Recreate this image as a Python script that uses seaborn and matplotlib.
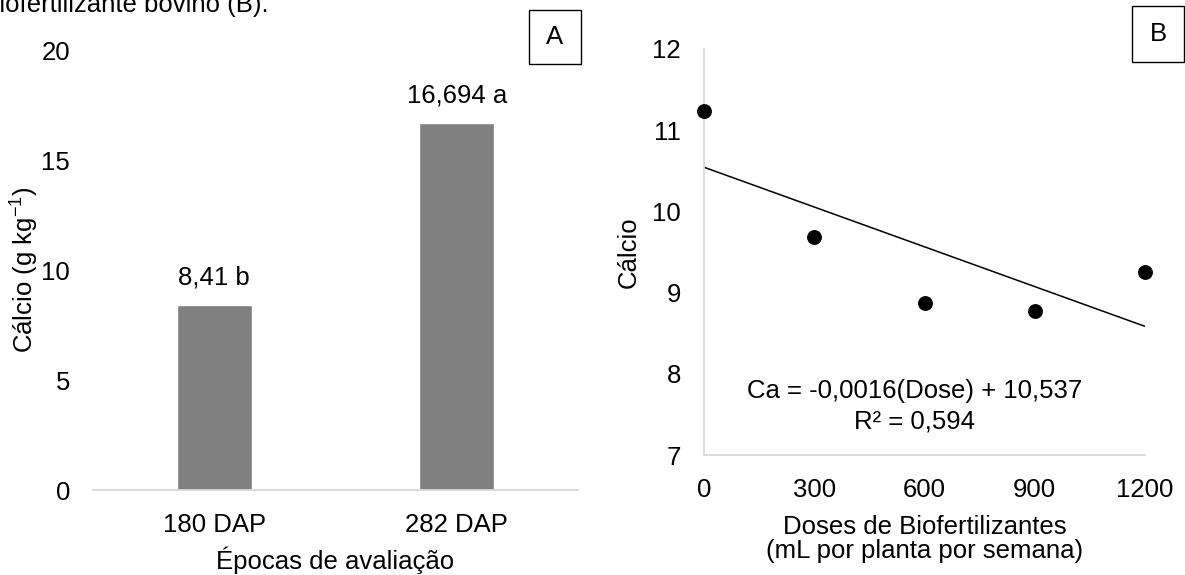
import matplotlib
matplotlib.use("Agg")
import matplotlib.pyplot as plt
from matplotlib.patches import Rectangle
import pandas as pd
import seaborn as sns

# Panel A
epocas = ["180 DAP", "282 DAP"]
calcio_epoca = [8.41, 16.694]
rotulos_barras = ["8,41 b", "16,694 a"]

# Panel B
doses = [0, 300, 600, 900, 1200]
calcio_dose = [11.24, 9.69, 8.87, 8.77, 9.25]
equacao = "Ca = -0,0016(Dose) + 10,537"
r2 = "R² = 0,594"

sns.set_theme(style="white")
plt.rcParams["font.family"] = ["Liberation Sans", "DejaVu Sans"]
plt.rcParams["mathtext.fontset"] = "custom"
plt.rcParams["mathtext.rm"] = "Liberation Sans"
plt.rcParams["mathtext.it"] = "Liberation Sans:italic"
for k in ["text.color", "axes.labelcolor", "xtick.color", "ytick.color"]:
    plt.rcParams[k] = "black"

FS = 18.5
AXIS_GRAY = "#d9d9d9"
W, H = 1185, 575

fig = plt.figure(figsize=(W / 100, H / 100), dpi=100)

# ---- A ----
ax_a = fig.add_axes([93 / W, 1 - 490 / H, 485 / W, 440 / H])
df_a = pd.DataFrame({"epoca": epocas, "calcio": calcio_epoca})
sns.barplot(data=df_a, x="epoca", y="calcio", color="#808080", width=0.31,
            saturation=1, ax=ax_a)
ax_a.bar_label(ax_a.containers[0], labels=rotulos_barras, padding=11, fontsize=FS)
ax_a.set_ylim(0, 20)
ax_a.set_yticks([0, 5, 10, 15, 20])
ax_a.set_xlabel("Épocas de avaliação", fontsize=FS)
ax_a.set_ylabel("Cálcio (g kg$^{-1}$)", fontsize=FS)
ax_a.xaxis.set_label_coords(0.5, (490 - 560) / 440)
ax_a.xaxis.label.set_verticalalignment("center")
ax_a.yaxis.set_label_coords(-0.140, 0.5)
ax_a.yaxis.label.set_verticalalignment("center")
for s in ["top", "right", "left"]:
    ax_a.spines[s].set_visible(False)
ax_a.spines["bottom"].set_color(AXIS_GRAY)
ax_a.spines["bottom"].set_linewidth(1.3)
ax_a.tick_params(axis="both", length=0, labelsize=FS, pad=16.5)

# ---- B ----
ax_b = fig.add_axes([704 / W, 1 - 455 / H, 441 / W, 406 / H])
df_b = pd.DataFrame({"dose": doses, "calcio": calcio_dose})
sns.regplot(data=df_b, x="dose", y="calcio", scatter=False, ci=None,
            line_kws={"color": "black", "lw": 1.1}, ax=ax_b)
sns.scatterplot(data=df_b, x="dose", y="calcio", color="black", s=115,
                linewidth=0, clip_on=False, zorder=5, ax=ax_b)
ax_b.set_xlim(0, 1200)
ax_b.set_ylim(7, 12)
ax_b.set_xticks(doses)
ax_b.set_yticks([7, 8, 9, 10, 11, 12])
ax_b.set_xlabel("Doses de Biofertilizantes\n(mL por planta por semana)",
                fontsize=FS, linespacing=1.05)
ax_b.set_ylabel("Cálcio", fontsize=FS)
ax_b.xaxis.set_label_coords(0.5, (455 - 539) / 406)
ax_b.xaxis.label.set_verticalalignment("center")
ax_b.yaxis.set_label_coords(-0.170, 0.5)
ax_b.yaxis.label.set_verticalalignment("center")
for s in ["top", "right"]:
    ax_b.spines[s].set_visible(False)
for s in ["left", "bottom"]:
    ax_b.spines[s].set_color(AXIS_GRAY)
    ax_b.spines[s].set_linewidth(1.3)
ax_b.tick_params(axis="both", length=0, labelsize=FS, pad=16.5)
ax_b.text(0.478, (455 - 391) / 406, equacao, transform=ax_b.transAxes,
          ha="center", va="center", fontsize=FS)
ax_b.text(0.478, (455 - 421) / 406, r2, transform=ax_b.transAxes,
          ha="center", va="center", fontsize=FS)

# ---- panel tags ----
for (x0, y0, x1, y1), letra in [((529, 10, 581, 64), "A"), ((1132, 6, 1184, 62), "B")]:
    fig.add_artist(Rectangle((x0 / W, 1 - y1 / H), (x1 - x0) / W, (y1 - y0) / H,
                             transform=fig.transFigure, fill=False,
                             edgecolor="black", lw=1.0))
    fig.text((x0 + x1) / 2 / W, 1 - (y0 + y1) / 2 / H, letra,
             ha="center", va="center", fontsize=FS)

# caption fragment cut at the top, as in the source page
fig.text(-15 / W, 1 - 12 / H, "biofertilizante bovino (B).", fontsize=FS,
         ha="left", va="baseline")

fig.savefig("out.png", dpi=100)
